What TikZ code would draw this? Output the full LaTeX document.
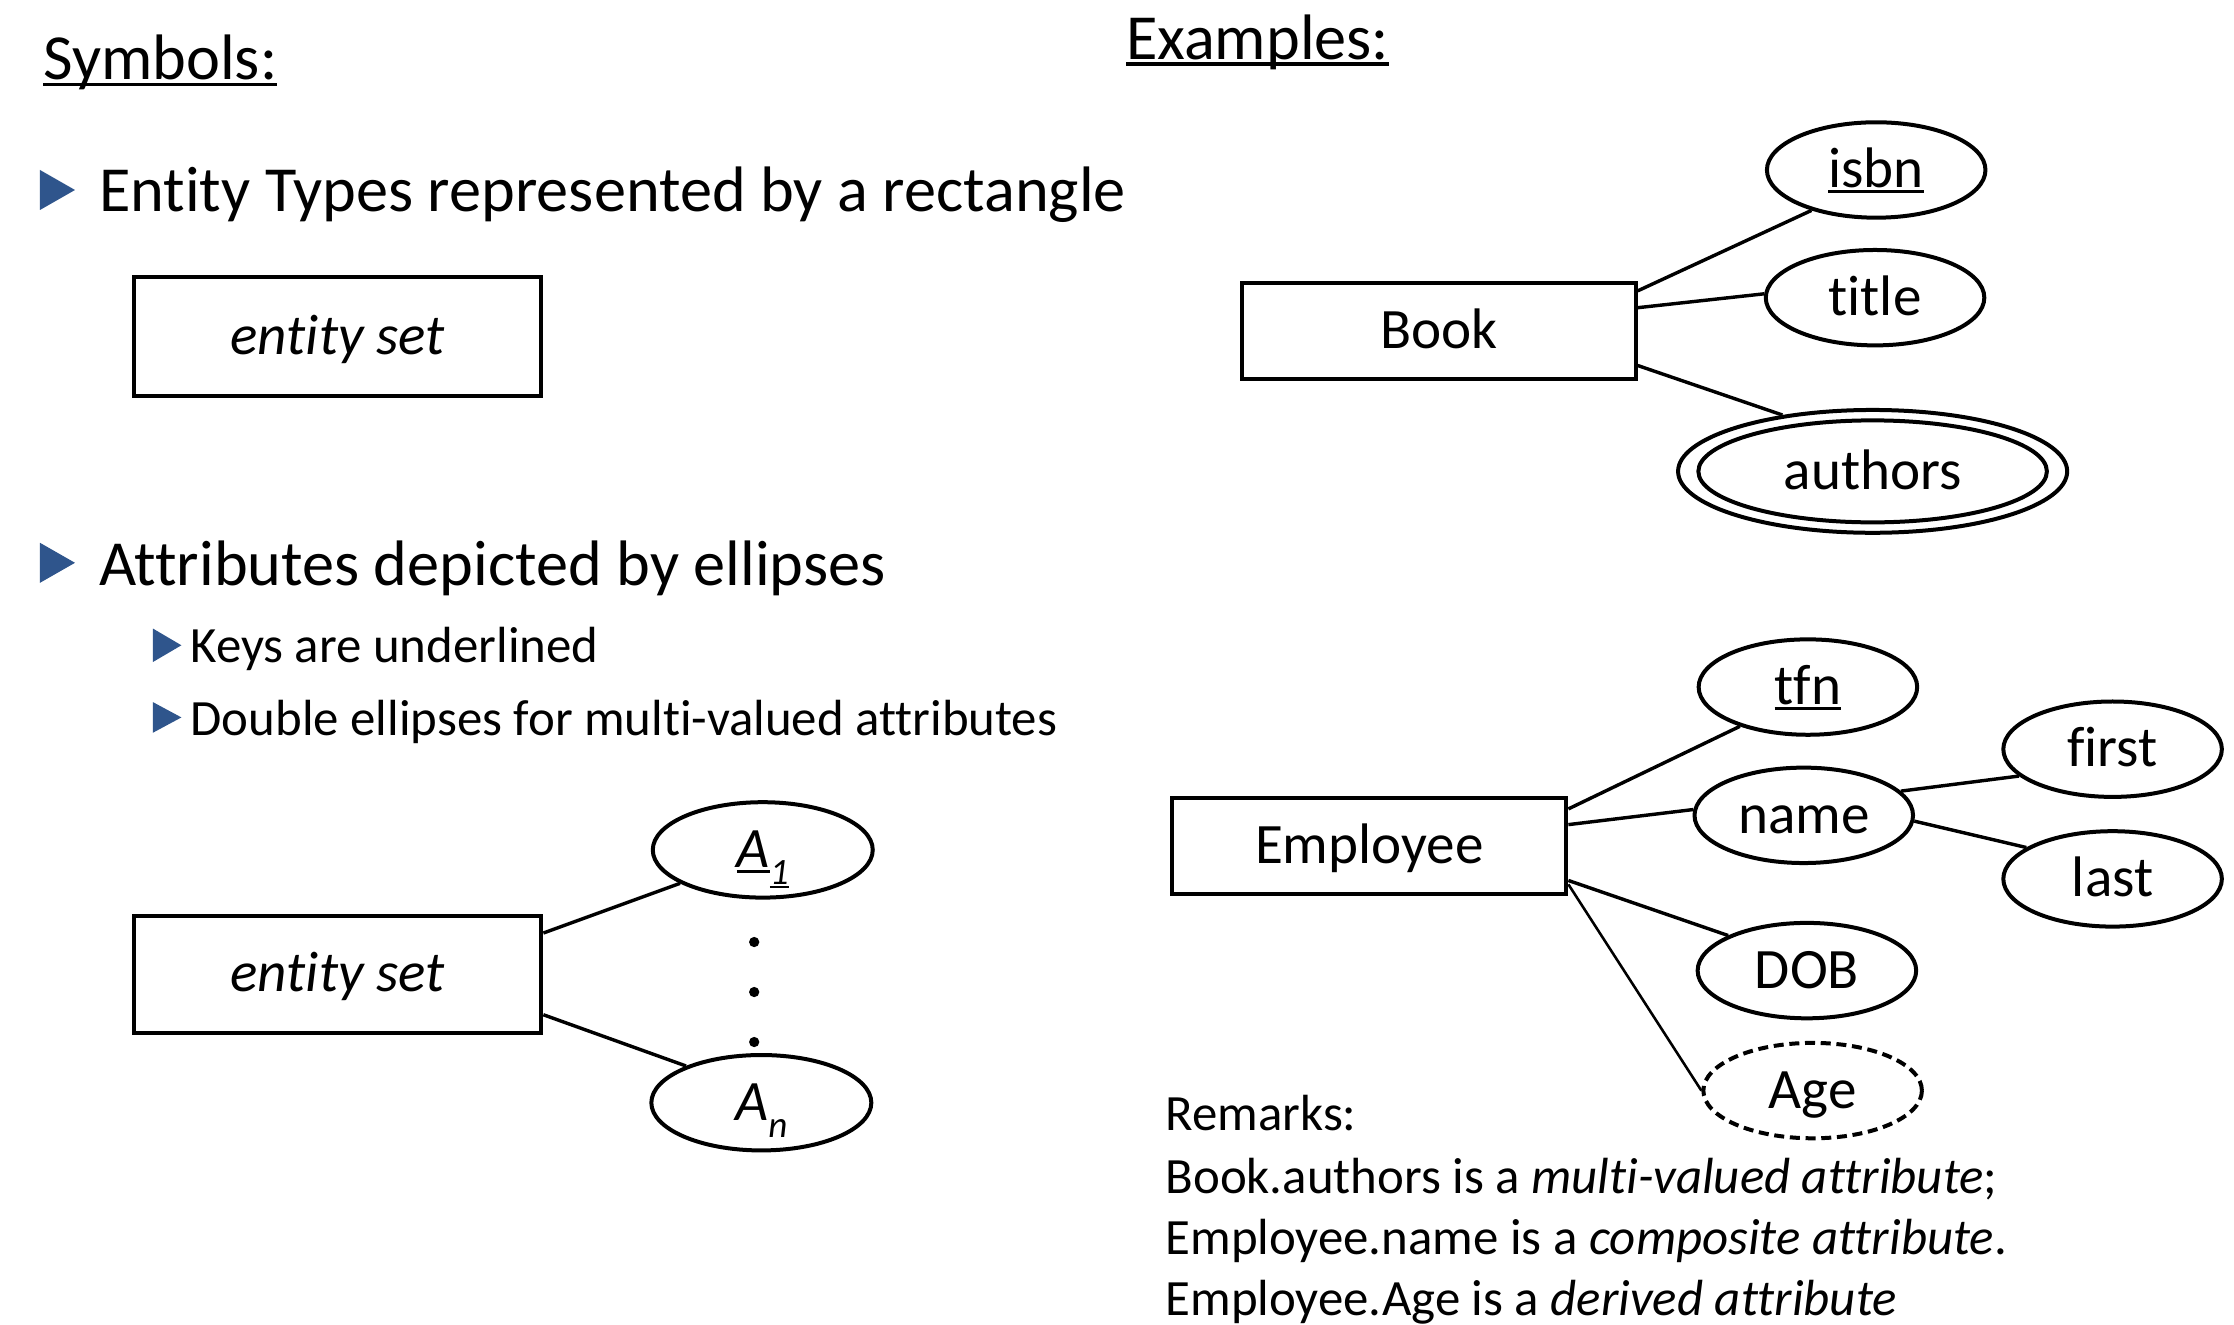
\documentclass[tikz,border=0pt]{standalone}
\usepackage{fontspec}
\setmainfont{Carlito}[Ligatures=NoCommon]
\usetikzlibrary{shapes.geometric,calc}
\definecolor{bulletblue}{RGB}{47,85,140}
\newcommand{\myul}[1]{\setbox0\hbox{#1}\rlap{\rule[-0.1em]{\wd0}{0.055em}}\box0}
\begin{document}
\begin{tikzpicture}[x=0.5pt,y=-0.5pt,
  entbox/.style={draw,line width=1.4pt,inner sep=0pt,text height=15pt,text depth=2.6pt,font=\fontsize{20}{24}\selectfont},
  attr/.style={ellipse,draw,line width=1.4pt,inner sep=0pt,minimum width=76.5pt,minimum height=33.4pt,text height=15pt,text depth=2.6pt,font=\fontsize{20}{24}\selectfont},
  conn/.style={line width=1.2pt},
  heading/.style={anchor=base west,inner sep=0pt,font=\fontsize{22.5}{27}\selectfont},
  subtext/.style={anchor=base west,inner sep=0pt,font=\fontsize{17.8}{21}\selectfont}]
\useasboundingbox (0,0) rectangle (1564,927);
\fill[white] (0,0) rectangle (1564,927);

% headings
\node[heading] (sym) at (30,56) {\myul{Symbols:}};
\node[heading] (ex) at (788,41.7) {\myul{Examples:}};

% bullets
\fill[bulletblue] (28,119) -- (28,147) -- (52.5,133) -- cycle;
\node[heading] (b1) at (69,148) {Entity Types represented by a rectangle};
\fill[bulletblue] (28,380) -- (28,408) -- (52.5,394) -- cycle;
\node[heading] (b2) at (69,410) {Attributes depicted by ellipses};
\fill[bulletblue] (107,440) -- (107,463.5) -- (127,451.75) -- cycle;
\node[subtext] (s1) at (133,464) {Keys are underlined};
\fill[bulletblue] (107,491.5) -- (107,513) -- (127,502.25) -- cycle;
\node[subtext] (s2) at (133,514.7) {Double ellipses for multi-valued attributes};

% symbol entity set
\node[entbox,minimum width=142.5pt,minimum height=41.5pt] (r1) at (236.5,235.5) {\textit{entity set}};
\node[entbox,minimum width=142.5pt,minimum height=41pt] (r2) at (236.5,682) {\textit{entity set}};
\node[attr,minimum width=77pt] (a1) at (534,595) {\textit{\myul{A}\raisebox{-0.3em}{\fontsize{13}{15}\selectfont\myul{1}}}};
\node[attr,minimum width=77pt] (an) at (533,772) {\textit{A\raisebox{-0.3em}{\fontsize{13}{15}\selectfont n}}};
\fill (528,659.5) circle[radius=1.8pt];
\fill (528,694.5) circle[radius=1.8pt];
\fill (528,729.5) circle[radius=1.8pt];
\draw[conn] ($(r2.north east)+(0,13.6)$) -- (a1.202);
\draw[conn] ($(r2.south east)+(0,-14)$) -- (an.154);

% Book example
\node[entbox,minimum width=137.7pt,minimum height=33.6pt] (book) at (1007.5,231.6) {Book};
\node[attr] (isbn) at (1313.5,119) {\myul{isbn}};
\node[attr] (title) at (1312.7,208.4) {title};
\node[ellipse,draw,line width=1.4pt,inner sep=0pt,minimum width=136.2pt,minimum height=43pt] (autho) at (1311,330) {};
\node[attr,minimum width=122pt,minimum height=35.7pt] (authi) at (1311,330) {authors};
\draw[conn] ($(book.north east)+(0,7)$) -- (isbn.212.5);
\draw[conn] ($(book.north east)+(0,18.8)$) -- (title.178);
\draw[conn] ($(book.south east)+(0,-10.7)$) -- (autho.148);

% Employee example
\node[entbox,minimum width=138pt,minimum height=33.5pt] (emp) at (958.6,592.2) {Employee};
\node[attr] (tfn) at (1265.7,481) {\myul{tfn}};
\node[attr] (name) at (1262.8,570.8) {name};
\node[attr] (first) at (1479,524.5) {first};
\node[attr] (last) at (1479,615.3) {last};
\node[attr] (dob) at (1265,679.5) {DOB};
\node[attr,dash pattern=on 3.5pt off 2pt] (age) at (1269,763.5) {Age};
\draw[conn] ($(emp.north east)+(0,9)$) -- (tfn.210);
\draw[conn] ($(emp.north east)+(0,20)$) -- (name.177);
\draw[conn] (name.14.7) -- (first.196);
\draw[conn] (name.357.3) -- (last.160.2);
\draw[conn] ($(emp.south east)+(0,-10.7)$) -- (dob.156.4);
\draw[line width=0.9pt] ($(emp.south east)+(0,-8)$) -- (age.180);

% remarks
\node[subtext] (rm1) at (815.6,791.4) {Remarks:};
\node[subtext] (rm2) at (815.6,835.2) {Book.authors is a \textit{multi-valued attribute};};
\node[subtext] (rm3) at (815.6,878) {Employee.name is a \textit{composite attribute}.};
\node[subtext] (rm4) at (815.6,921) {Employee.Age is a \textit{derived attribute}};
\end{tikzpicture}
\end{document}
